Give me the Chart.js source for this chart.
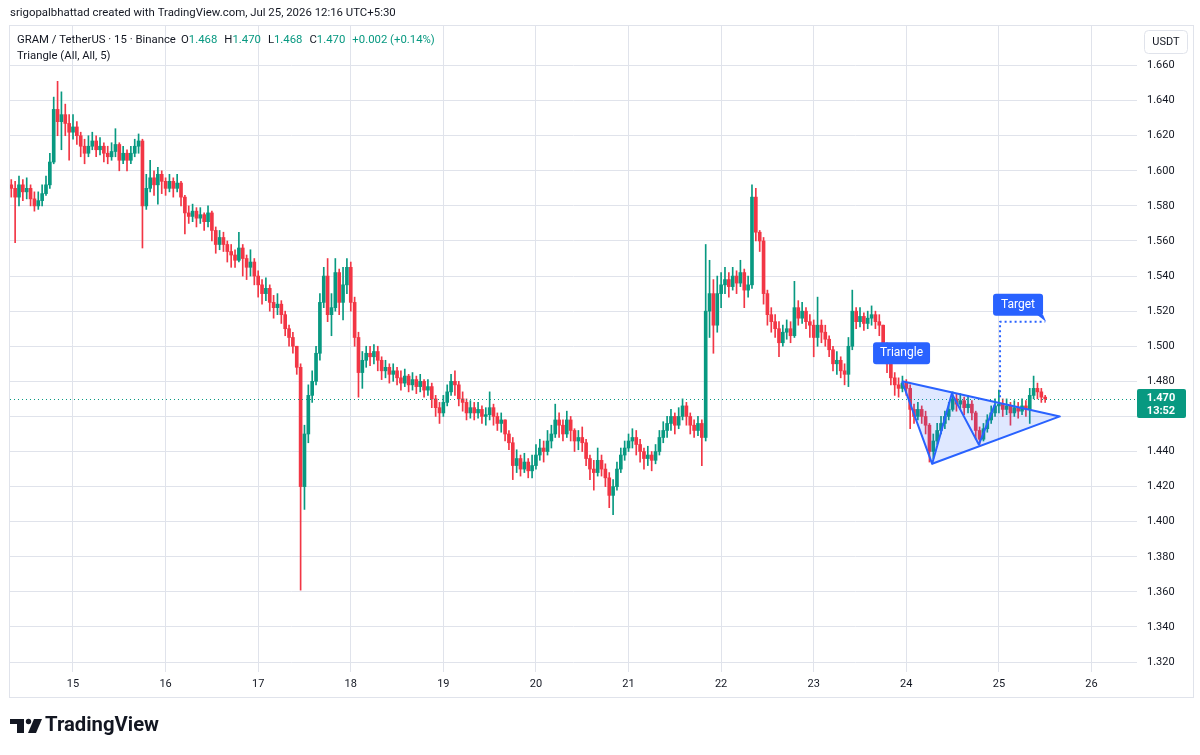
<!DOCTYPE html>
<html>
<head>
<meta charset="utf-8">
<script src="https://cdn.jsdelivr.net/npm/chart.js@4.4.1/dist/chart.umd.min.js"></script>
<style>
  html, body { margin: 0; padding: 0; background: #fff; }
  #gram { display: block; }
</style>
</head>
<body>
<canvas id="gram" width="1200" height="755"></canvas>
<script>
// hourly candles, first one at the 14th 08:00 (x value = hours since the 14th 00:00)
const startHour = 8;
const firstOpen = 1.592;

const closes = [
  1.590,1.585,1.592,1.588,1.590,1.584,1.580,1.583,1.587,1.592,1.605,1.635,1.628,1.632,1.627,1.622,
  1.625,1.620,1.614,1.610,1.614,1.617,1.612,1.614,1.610,1.608,1.611,1.615,1.606,1.610,1.606,1.610,1.614,1.617,1.580,1.590,1.596,1.592,1.598,1.594,
  1.590,1.594,1.590,1.593,1.585,1.576,1.574,1.577,1.573,1.575,1.571,1.576,1.566,1.558,1.562,1.558,1.554,1.552,1.549,1.556,1.550,1.545,1.548,1.540,
  1.535,1.530,1.533,1.525,1.522,1.524,1.518,1.510,1.505,1.500,1.488,1.420,1.450,1.472,1.480,1.496,1.525,1.540,1.518,1.522,1.542,1.525,1.535,1.545,
  1.525,1.505,1.485,1.492,1.496,1.494,1.497,1.492,1.486,1.488,1.484,1.486,1.482,1.479,1.483,1.478,1.481,1.477,1.480,1.475,1.477,1.470,1.465,1.462,
  1.468,1.474,1.480,1.478,1.470,1.468,1.462,1.465,1.462,1.464,1.460,1.461,1.465,1.460,1.456,1.458,1.450,1.445,1.432,1.436,1.430,1.434,1.429,1.432,
  1.438,1.442,1.440,1.446,1.450,1.458,1.455,1.450,1.458,1.452,1.446,1.448,1.445,1.436,1.430,1.428,1.435,1.430,1.425,1.415,1.420,1.430,1.438,1.442,
  1.446,1.448,1.444,1.440,1.436,1.438,1.435,1.440,1.448,1.452,1.456,1.460,1.455,1.460,1.466,1.460,1.455,1.452,1.456,1.448,1.520,1.530,1.512,1.530,
  1.535,1.538,1.534,1.540,1.536,1.542,1.532,1.535,1.585,1.565,1.560,1.530,1.518,1.514,1.510,1.502,1.508,1.510,1.506,1.522,1.516,1.520,1.514,1.512,
  1.505,1.512,1.508,1.504,1.498,1.490,1.492,1.486,1.484,1.500,1.520,1.514,1.517,1.513,1.516,1.518,1.514,1.512,1.500,1.490,1.482,1.478,1.476,1.479,
  1.476,1.464,1.460,1.464,1.460,1.455,1.440,1.446,1.452,1.456,1.460,1.464,1.470,1.467,1.469,1.465,1.467,1.462,1.452,1.447,1.453,1.458,1.462,1.466,
  1.467,1.464,1.466,1.462,1.465,1.463,1.466,1.464,1.472,1.476,1.474,1.471,1.470
];
const highs = [
  1.595,1.594,1.597,1.595,1.596,1.592,1.588,1.588,1.592,1.597,1.610,1.642,1.651,1.645,1.638,1.632,
  1.632,1.628,1.622,1.618,1.620,1.622,1.620,1.619,1.616,1.614,1.616,1.624,1.616,1.614,1.612,1.614,1.618,1.621,1.618,1.598,1.606,1.600,1.602,1.600,
  1.596,1.598,1.596,1.598,1.594,1.586,1.580,1.581,1.579,1.579,1.576,1.580,1.577,1.568,1.566,1.565,1.560,1.558,1.555,1.565,1.558,1.552,1.555,1.550,
  1.543,1.538,1.539,1.535,1.529,1.530,1.526,1.520,1.512,1.508,1.500,1.490,1.455,1.478,1.486,1.500,1.530,1.545,1.550,1.530,1.550,1.544,1.545,1.550,
  1.548,1.528,1.508,1.497,1.500,1.500,1.501,1.500,1.494,1.492,1.490,1.490,1.488,1.486,1.487,1.484,1.485,1.483,1.484,1.481,1.481,1.479,1.472,1.468,
  1.472,1.478,1.484,1.486,1.480,1.474,1.470,1.469,1.468,1.468,1.466,1.465,1.474,1.467,1.462,1.462,1.458,1.452,1.448,1.441,1.438,1.439,1.436,1.438,
  1.444,1.447,1.446,1.452,1.455,1.467,1.462,1.458,1.463,1.460,1.453,1.452,1.454,1.447,1.438,1.435,1.442,1.438,1.433,1.428,1.424,1.434,1.442,1.446,
  1.450,1.453,1.452,1.447,1.442,1.443,1.440,1.444,1.452,1.457,1.460,1.464,1.462,1.465,1.470,1.468,1.462,1.458,1.460,1.458,1.558,1.549,1.538,1.540,
  1.542,1.545,1.542,1.545,1.543,1.549,1.544,1.540,1.592,1.590,1.566,1.562,1.532,1.522,1.518,1.514,1.512,1.515,1.514,1.537,1.526,1.525,1.522,1.518,
  1.515,1.528,1.515,1.512,1.506,1.500,1.497,1.494,1.490,1.505,1.532,1.522,1.522,1.519,1.520,1.523,1.520,1.518,1.512,1.502,1.492,1.485,1.482,1.483,
  1.481,1.478,1.467,1.468,1.466,1.463,1.456,1.450,1.456,1.460,1.463,1.468,1.474,1.473,1.473,1.471,1.472,1.469,1.463,1.454,1.456,1.461,1.466,1.470,
  1.475,1.470,1.470,1.468,1.469,1.468,1.470,1.469,1.476,1.483,1.479,1.476,1.472
];
const lows = [
  1.585,1.559,1.580,1.583,1.584,1.580,1.577,1.578,1.580,1.586,1.590,1.604,1.620,1.612,1.620,1.606,
  1.618,1.615,1.608,1.604,1.608,1.612,1.608,1.609,1.605,1.604,1.606,1.608,1.600,1.604,1.600,1.604,1.608,1.610,1.556,1.578,1.588,1.586,1.581,1.587,
  1.586,1.588,1.585,1.588,1.580,1.564,1.570,1.571,1.568,1.570,1.566,1.568,1.560,1.553,1.555,1.554,1.548,1.545,1.545,1.548,1.540,1.538,1.540,1.535,
  1.528,1.524,1.526,1.520,1.516,1.518,1.513,1.506,1.500,1.496,1.484,1.361,1.407,1.445,1.468,1.478,1.492,1.522,1.514,1.506,1.520,1.518,1.515,1.530,
  1.520,1.500,1.471,1.476,1.488,1.489,1.490,1.486,1.481,1.482,1.479,1.480,1.478,1.475,1.477,1.474,1.475,1.473,1.474,1.471,1.472,1.465,1.460,1.456,
  1.460,1.466,1.472,1.472,1.466,1.463,1.458,1.459,1.458,1.459,1.456,1.455,1.458,1.455,1.452,1.451,1.446,1.441,1.424,1.428,1.426,1.428,1.425,1.425,
  1.430,1.435,1.434,1.438,1.442,1.448,1.448,1.446,1.448,1.446,1.440,1.441,1.440,1.432,1.424,1.418,1.426,1.426,1.420,1.408,1.404,1.418,1.428,1.435,
  1.440,1.442,1.438,1.434,1.430,1.432,1.429,1.433,1.438,1.445,1.448,1.452,1.450,1.453,1.458,1.455,1.450,1.448,1.449,1.432,1.446,1.505,1.496,1.508,
  1.522,1.530,1.528,1.532,1.530,1.534,1.522,1.528,1.533,1.560,1.554,1.524,1.512,1.508,1.505,1.494,1.500,1.504,1.502,1.505,1.512,1.513,1.510,1.505,
  1.494,1.500,1.502,1.500,1.494,1.486,1.484,1.482,1.478,1.477,1.498,1.510,1.511,1.509,1.510,1.512,1.510,1.506,1.494,1.485,1.478,1.472,1.471,1.474,
  1.472,1.453,1.456,1.458,1.456,1.450,1.434,1.436,1.444,1.450,1.453,1.458,1.463,1.463,1.464,1.461,1.462,1.458,1.447,1.444,1.446,1.451,1.456,1.460,
  1.462,1.460,1.461,1.455,1.460,1.459,1.461,1.460,1.456,1.470,1.470,1.468,1.468
];

const dayTicks = [24, 48, 72, 96, 120, 144, 168, 192, 216, 240, 264, 288];
const dayLabels = ['15', '16', '17', '18', '19', '20', '21', '22', '23', '24', '25', '26'];
const priceTicks = [1.32, 1.34, 1.36, 1.38, 1.40, 1.42, 1.44, 1.46, 1.48, 1.50, 1.52, 1.54, 1.56, 1.58, 1.60, 1.62, 1.64, 1.66];

// triangle drawing: five pivots + apex, and the target line
const pivotHours = [238.9, 246.7, 251.8, 258.8, 263.0];
const pivotPrices = [1.480, 1.433, 1.473, 1.444, 1.467];
const apexHour = 279.8;
const apexPrice = 1.460;
const targetHours = [264.3, 276.0];
const targetPrices = [1.471, 1.514];

const UP = '#089981';
const DOWN = '#f23645';
const TEXT = '#131722';
const GRID = '#e0e3eb';
const BLUE = '#2962ff';
const FONT = 'Roboto, "Noto Sans", sans-serif';

const lastClose = closes[closes.length - 1];
const opens = closes.map((c, i) => i === 0 ? firstOpen : closes[i - 1]);
const colors = closes.map((c, i) => c >= opens[i] ? UP : DOWN);
const bodies = closes.map((c, i) => ({ x: startHour + i, y: [opens[i], c] }));
const wicks = closes.map((c, i) => ({
  x: startHour + i,
  y: [Math.min(lows[i], opens[i], c), Math.max(highs[i], opens[i], c)]
}));

function fitFont(ctx, text, width, weight) {
  ctx.font = weight + ' 20px ' + FONT;
  const s = 20 * width / ctx.measureText(text).width;
  return weight + ' ' + s.toFixed(2) + 'px ' + FONT;
}

function roundBox(ctx, x, y, w, h, r) {
  ctx.beginPath();
  ctx.roundRect(x, y, w, h, r);
}

const overlay = {
  id: 'overlay',
  afterDatasetsDraw(chart) {
    const ctx = chart.ctx;
    const xs = chart.scales.x, ys = chart.scales.y;
    const area = chart.chartArea;
    const px = h => xs.getPixelForValue(h);
    const py = p => ys.getPixelForValue(p);
    ctx.save();

    // last price dotted line
    const ly = Math.round(py(lastClose)) + 0.5;
    ctx.strokeStyle = UP;
    ctx.lineWidth = 1;
    ctx.setLineDash([1, 3]);
    ctx.beginPath();
    ctx.moveTo(area.left, ly);
    ctx.lineTo(area.right, ly);
    ctx.stroke();
    ctx.setLineDash([]);

    // triangle fill and outline
    const p0 = [px(pivotHours[0]), py(pivotPrices[0])];
    const p1 = [px(pivotHours[1]), py(pivotPrices[1])];
    const ap = [px(apexHour), py(apexPrice)];
    ctx.fillStyle = 'rgba(41, 98, 255, 0.15)';
    ctx.beginPath();
    ctx.moveTo(p0[0], p0[1]);
    ctx.lineTo(ap[0], ap[1]);
    ctx.lineTo(p1[0], p1[1]);
    ctx.closePath();
    ctx.fill();
    ctx.strokeStyle = BLUE;
    ctx.lineWidth = 2;
    ctx.lineJoin = 'round';
    ctx.beginPath();
    ctx.moveTo(p0[0], p0[1]);
    ctx.lineTo(ap[0], ap[1]);
    ctx.lineTo(p1[0], p1[1]);
    ctx.stroke();
    ctx.beginPath();
    pivotHours.forEach((h, i) => {
      const x = px(h), y = py(pivotPrices[i]);
      if (i === 0) ctx.moveTo(x, y); else ctx.lineTo(x, y);
    });
    ctx.stroke();

    // target dotted lines
    const tx0 = px(targetHours[0]), tx1 = px(targetHours[1]);
    const tyB = py(targetPrices[0]), tyT = py(targetPrices[1]);
    ctx.setLineDash([2, 3]);
    ctx.beginPath();
    ctx.moveTo(tx0, tyB);
    ctx.lineTo(tx0, tyT);
    ctx.lineTo(tx1, tyT);
    ctx.stroke();
    ctx.setLineDash([]);

    // labels
    ctx.font = '12px ' + FONT;
    ctx.textAlign = 'center';
    ctx.textBaseline = 'middle';
    ctx.fillStyle = BLUE;
    roundBox(ctx, p0[0] - 29, p0[1] - 39, 57, 22, 3);
    ctx.fill();
    ctx.fillStyle = '#fff';
    ctx.fillText('Triangle', p0[0] - 0.5, p0[1] - 28);

    ctx.fillStyle = BLUE;
    roundBox(ctx, tx0 - 7, tyT - 28, 50, 22, 3);
    ctx.fill();
    ctx.beginPath();
    ctx.moveTo(tx0 + 37, tyT - 7);
    ctx.lineTo(tx0 + 43, tyT - 7);
    ctx.lineTo(tx0 + 46, tyT);
    ctx.closePath();
    ctx.fill();
    ctx.fillStyle = '#fff';
    ctx.fillText('Target', tx0 + 18, tyT - 17);
    ctx.restore();
  },
  afterDraw(chart) {
    const ctx = chart.ctx;
    const ys = chart.scales.y;
    ctx.save();
    ctx.textBaseline = 'middle';
    ctx.textAlign = 'left';

    // frame
    ctx.strokeStyle = GRID;
    ctx.lineWidth = 1;
    ctx.strokeRect(9.5, 25.5, 1184, 672);

    // header
    ctx.fillStyle = TEXT;
    const header = 'srigopalbhattad created with TradingView.com, Jul 25, 2026 12:16 UTC+5:30';
    ctx.font = fitFont(ctx, header, 386, 'normal');
    ctx.fillText(header, 10, 13);

    // legend
    const sym = 'GRAM / TetherUS \u00b7 15 \u00b7 Binance';
    ctx.font = fitFont(ctx, sym, 159, 'normal');
    ctx.fillText(sym, 17, 40);
    const parts = [
      ['O', TEXT, 0], ['1.468', UP, 7],
      ['H', TEXT, 0], ['1.470', UP, 7],
      ['L', TEXT, 0], ['1.468', UP, 7],
      ['C', TEXT, 0], ['1.470', UP, 7],
      ['+0.002 (+0.14%)', UP, 0]
    ];
    let lx = 181;
    parts.forEach(p => {
      ctx.fillStyle = p[1];
      ctx.fillText(p[0], lx, 40);
      lx += ctx.measureText(p[0]).width + p[2];
    });
    ctx.fillStyle = TEXT;
    ctx.fillText('Triangle (All, All, 5)', 17, 56);

    // currency box
    ctx.strokeStyle = GRID;
    roundBox(ctx, 1144.5, 30.5, 43, 23, 4);
    ctx.fillStyle = '#fff';
    ctx.fill();
    ctx.stroke();
    ctx.fillStyle = TEXT;
    ctx.textAlign = 'center';
    ctx.font = '11px ' + FONT;
    ctx.fillText('USDT', 1166, 42);

    // last price label
    const ly = ys.getPixelForValue(lastClose);
    ctx.fillStyle = UP;
    roundBox(ctx, 1137, ly - 10, 49, 29, 2);
    ctx.fill();
    ctx.fillStyle = '#fff';
    ctx.font = 'bold 11px ' + FONT;
    ctx.fillText(lastClose.toFixed(3), 1161, ly - 1);
    ctx.fillText('13:52', 1161, ly + 12);

    // TradingView logo
    ctx.fillStyle = TEXT;
    ctx.fillRect(10, 719, 14, 5);
    ctx.fillRect(17, 719, 7, 14);
    ctx.beginPath();
    ctx.arc(28.5, 721.5, 2.7, 0, Math.PI * 2);
    ctx.fill();
    ctx.beginPath();
    ctx.moveTo(34, 719);
    ctx.lineTo(42, 719);
    ctx.lineTo(36, 733);
    ctx.lineTo(28, 733);
    ctx.closePath();
    ctx.fill();
    ctx.textAlign = 'left';
    ctx.font = fitFont(ctx, 'TradingView', 114, 'bold');
    ctx.fillText('TradingView', 45, 726);
    ctx.restore();
  }
};

new Chart(document.getElementById('gram'), {
  type: 'bar',
  data: {
    datasets: [
      {
        label: 'body',
        data: bodies,
        backgroundColor: colors,
        barThickness: 3,
        minBarLength: 1,
        grouped: false,
        order: 0
      },
      {
        label: 'wick',
        data: wicks,
        backgroundColor: colors,
        barThickness: 1,
        grouped: false,
        order: 1
      }
    ]
  },
  options: {
    responsive: false,
    animation: false,
    devicePixelRatio: 1,
    layout: { padding: { left: 10, top: 25, right: 7, bottom: 57 } },
    plugins: { legend: { display: false }, tooltip: { enabled: false } },
    scales: {
      x: {
        type: 'linear',
        min: 7.67,
        max: 299.8,
        offset: false,
        border: { display: false },
        grid: { color: GRID, tickLength: 8, drawTicks: true, offset: false },
        ticks: {
          color: TEXT,
          font: { size: 11, family: FONT },
          padding: 6,
          maxRotation: 0,
          autoSkip: false,
          callback: v => dayLabels[dayTicks.indexOf(v)]
        },
        afterBuildTicks: s => { s.ticks = dayTicks.map(v => ({ value: v })); },
        afterFit: s => { s.height = 34; }
      },
      y: {
        position: 'right',
        min: 1.3189,
        max: 1.6831,
        border: { display: false },
        grid: { color: GRID, drawTicks: false },
        ticks: {
          color: TEXT,
          font: { size: 11, family: FONT },
          padding: 10,
          // the last-price label covers the tick just below it
          callback: v => (v - lastClose > -0.0125 && v - lastClose < 0.006) ? '' : v.toFixed(3)
        },
        afterBuildTicks: s => { s.ticks = priceTicks.map(v => ({ value: v })); },
        afterFit: s => { s.width = 56; }
      }
    }
  },
  plugins: [overlay]
});
</script>
</body>
</html>
